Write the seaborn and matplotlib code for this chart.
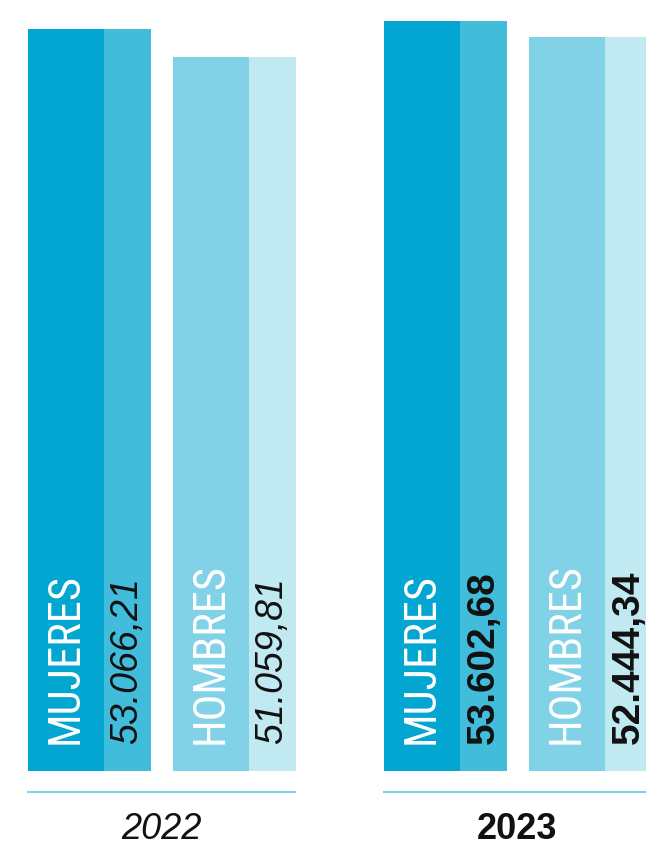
import pandas as pd
import matplotlib.pyplot as plt
import seaborn as sns

# Salario medio por sexo (euros)
anios = ['2022', '2022', '2023', '2023']
generos = ['MUJERES', 'HOMBRES', 'MUJERES', 'HOMBRES']
salarios = [53066.21, 51059.81, 53602.68, 52444.34]

colores_oscuros = {'MUJERES': '#03a5d1', 'HOMBRES': '#82d2e7'}
colores_claros = {'MUJERES': '#41bcdb', 'HOMBRES': '#c0e9f2'}


def formato_es(v):
    return f'{v:,.2f}'.replace(',', 'X').replace('.', ',').replace('X', '.')


# layout in pixels (x axis runs 0..646)
inicio = [28, 173, 384, 529]
ancho_oscuro = 76
ancho_claro = 47
paso = 145

df = pd.DataFrame({'anio': anios, 'genero': generos, 'salario': salarios})
df['x_oscuro'] = [s + ancho_oscuro / 2 for s in inicio]
df['x_claro'] = [s + ancho_oscuro + ancho_claro / 2 for s in inicio]
df['etiqueta'] = df['salario'].map(formato_es)

sns.set_theme(style='white')
plt.rcParams['font.family'] = ['Liberation Sans', 'DejaVu Sans']
fuente_etiqueta = ['Roboto Condensed', 'Liberation Sans Narrow', 'Roboto']

fig = plt.figure(figsize=(6.46, 8.47), dpi=100)
ax = fig.add_axes([0, 0.0901, 1, 0.8851])

sns.barplot(data=df, x='x_oscuro', y='salario', hue='genero', palette=colores_oscuros,
            native_scale=True, dodge=False, width=ancho_oscuro / paso, errorbar=None,
            saturation=1, linewidth=0, legend=False, ax=ax)
sns.barplot(data=df, x='x_claro', y='salario', hue='genero', palette=colores_claros,
            native_scale=True, dodge=False, width=ancho_claro / paso, errorbar=None,
            saturation=1, linewidth=0, legend=False, ax=ax)

ax.set_xlim(0, 646)
ax.set_ylim(0, max(salarios))
ax.axis('off')

for _, r in df.iterrows():
    ax.annotate(r['genero'], xy=(r['x_oscuro'], 0), xytext=(0, 19), textcoords='offset points',
                rotation=90, ha='center', va='bottom', color='white', fontsize=32,
                family=fuente_etiqueta)
    negrita = r['anio'] == '2023'
    ax.annotate(r['etiqueta'], xy=(r['x_claro'], 0), xytext=(0, 19), textcoords='offset points',
                rotation=90, ha='center', va='bottom', color='#111111',
                fontsize=28 if negrita else 27,
                fontweight='bold' if negrita else 'normal',
                fontstyle='normal' if negrita else 'italic')

# year baselines and labels
trans = ax.get_xaxis_transform()
for anio, x0, x1, xc in [('2022', 27, 296, 161), ('2023', 383, 652, 517)]:
    ax.plot([x0, x1], [-0.0284, -0.0284], transform=trans, color='#82d2e7', lw=1.5,
            clip_on=False, solid_capstyle='butt')
    negrita = anio == '2023'
    fig.text(xc / 646, 8 / 847, anio, ha='center', va='baseline', fontsize=26,
             color='#111111', fontweight='bold' if negrita else 'normal',
             fontstyle='normal' if negrita else 'italic')

fig.savefig('out.png', dpi=100)
